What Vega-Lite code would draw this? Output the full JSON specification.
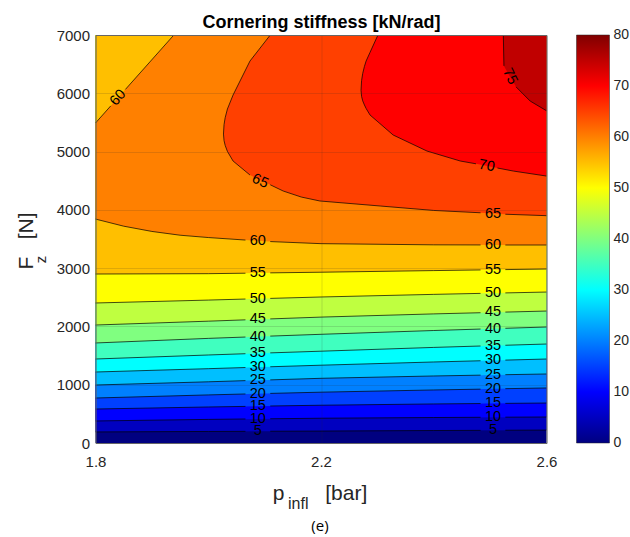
{
  "$schema": "https://vega.github.io/schema/vega-lite/v6.json",
  "width": 451,
  "height": 408,
  "autosize": {"type": "none"},
  "padding": {"left": 95.5, "top": 35, "right": 83.5, "bottom": 94},
  "background": "white",
  "datasets": {
    "bands": [
      {"level": 0, "p": 1.8, "lo": 0, "hi": 7000}, {"level": 0, "p": 2.6, "lo": 0, "hi": 7000},
      {"level": 5, "p": 1.8, "lo": 190, "hi": 7000}, {"level": 5, "p": 2.0, "lo": 198, "hi": 7000}, {"level": 5, "p": 2.2, "lo": 205, "hi": 7000}, {"level": 5, "p": 2.4, "lo": 214, "hi": 7000}, {"level": 5, "p": 2.6, "lo": 222, "hi": 7000},
      {"level": 10, "p": 1.8, "lo": 378, "hi": 7000}, {"level": 10, "p": 2.0, "lo": 405, "hi": 7000}, {"level": 10, "p": 2.2, "lo": 425, "hi": 7000}, {"level": 10, "p": 2.4, "lo": 437, "hi": 7000}, {"level": 10, "p": 2.6, "lo": 446, "hi": 7000},
      {"level": 15, "p": 1.8, "lo": 583, "hi": 7000}, {"level": 15, "p": 2.0, "lo": 618, "hi": 7000}, {"level": 15, "p": 2.2, "lo": 648, "hi": 7000}, {"level": 15, "p": 2.4, "lo": 670, "hi": 7000}, {"level": 15, "p": 2.6, "lo": 686, "hi": 7000},
      {"level": 20, "p": 1.8, "lo": 772, "hi": 7000}, {"level": 20, "p": 2.0, "lo": 825, "hi": 7000}, {"level": 20, "p": 2.2, "lo": 872, "hi": 7000}, {"level": 20, "p": 2.4, "lo": 910, "hi": 7000}, {"level": 20, "p": 2.6, "lo": 944, "hi": 7000},
      {"level": 25, "p": 1.8, "lo": 995, "hi": 7000}, {"level": 25, "p": 2.0, "lo": 1050, "hi": 7000}, {"level": 25, "p": 2.2, "lo": 1110, "hi": 7000}, {"level": 25, "p": 2.4, "lo": 1150, "hi": 7000}, {"level": 25, "p": 2.6, "lo": 1184, "hi": 7000},
      {"level": 30, "p": 1.8, "lo": 1218, "hi": 7000}, {"level": 30, "p": 2.0, "lo": 1275, "hi": 7000}, {"level": 30, "p": 2.2, "lo": 1335, "hi": 7000}, {"level": 30, "p": 2.4, "lo": 1390, "hi": 7000}, {"level": 30, "p": 2.6, "lo": 1441, "hi": 7000},
      {"level": 35, "p": 1.8, "lo": 1441, "hi": 7000}, {"level": 35, "p": 2.0, "lo": 1510, "hi": 7000}, {"level": 35, "p": 2.2, "lo": 1575, "hi": 7000}, {"level": 35, "p": 2.4, "lo": 1640, "hi": 7000}, {"level": 35, "p": 2.6, "lo": 1698, "hi": 7000},
      {"level": 40, "p": 1.8, "lo": 1716, "hi": 7000}, {"level": 40, "p": 2.0, "lo": 1795, "hi": 7000}, {"level": 40, "p": 2.2, "lo": 1865, "hi": 7000}, {"level": 40, "p": 2.4, "lo": 1930, "hi": 7000}, {"level": 40, "p": 2.6, "lo": 1990, "hi": 7000},
      {"level": 45, "p": 1.8, "lo": 2024, "hi": 7000}, {"level": 45, "p": 2.0, "lo": 2090, "hi": 7000}, {"level": 45, "p": 2.2, "lo": 2160, "hi": 7000}, {"level": 45, "p": 2.4, "lo": 2215, "hi": 7000}, {"level": 45, "p": 2.6, "lo": 2264, "hi": 7000},
      {"level": 50, "p": 1.8, "lo": 2402, "hi": 7000}, {"level": 50, "p": 2.0, "lo": 2452, "hi": 7000}, {"level": 50, "p": 2.2, "lo": 2505, "hi": 7000}, {"level": 50, "p": 2.4, "lo": 2550, "hi": 7000}, {"level": 50, "p": 2.6, "lo": 2590, "hi": 7000},
      {"level": 55, "p": 1.8, "lo": 2899, "hi": 7000}, {"level": 55, "p": 2.0, "lo": 2905, "hi": 7000}, {"level": 55, "p": 2.2, "lo": 2930, "hi": 7000}, {"level": 55, "p": 2.4, "lo": 2958, "hi": 7000}, {"level": 55, "p": 2.6, "lo": 2985, "hi": 7000},
      {"level": 60, "p": 1.8, "lo": 3842, "hi": 5490}, {"level": 60, "p": 1.85, "lo": 3720, "hi": 6033}, {"level": 60, "p": 1.9, "lo": 3630, "hi": 6576}, {"level": 60, "p": 1.939, "lo": 3579, "hi": 7000}, {"level": 60, "p": 2.0, "lo": 3525, "hi": 7000}, {"level": 60, "p": 2.1, "lo": 3460, "hi": 7000}, {"level": 60, "p": 2.2, "lo": 3420, "hi": 7000}, {"level": 60, "p": 2.4, "lo": 3400, "hi": 7000}, {"level": 60, "p": 2.6, "lo": 3397, "hi": 7000},
      {"level": 65, "p": 2.027, "lo": 5300, "hi": 5300}, {"level": 65, "p": 2.028, "lo": 5188, "hi": 5462}, {"level": 65, "p": 2.03, "lo": 5106, "hi": 5581}, {"level": 65, "p": 2.034, "lo": 5003, "hi": 5730}, {"level": 65, "p": 2.044, "lo": 4838, "hi": 5970}, {"level": 65, "p": 2.074, "lo": 4598, "hi": 6553}, {"level": 65, "p": 2.11, "lo": 4430, "hi": 7000}, {"level": 65, "p": 2.133, "lo": 4323, "hi": 7000}, {"level": 65, "p": 2.165, "lo": 4220, "hi": 7000}, {"level": 65, "p": 2.198, "lo": 4152, "hi": 7000}, {"level": 65, "p": 2.305, "lo": 4066, "hi": 7000}, {"level": 65, "p": 2.4, "lo": 3990, "hi": 7000}, {"level": 65, "p": 2.483, "lo": 3950, "hi": 7000}, {"level": 65, "p": 2.527, "lo": 3925, "hi": 7000}, {"level": 65, "p": 2.6, "lo": 3900, "hi": 7000},
      {"level": 70, "p": 2.271, "lo": 6050, "hi": 6050}, {"level": 70, "p": 2.272, "lo": 5946, "hi": 6218}, {"level": 70, "p": 2.274, "lo": 5870, "hi": 6340}, {"level": 70, "p": 2.277, "lo": 5800, "hi": 6460}, {"level": 70, "p": 2.28, "lo": 5740, "hi": 6553}, {"level": 70, "p": 2.287, "lo": 5627, "hi": 6702}, {"level": 70, "p": 2.301, "lo": 5510, "hi": 7000}, {"level": 70, "p": 2.328, "lo": 5284, "hi": 7000}, {"level": 70, "p": 2.388, "lo": 5009, "hi": 7000}, {"level": 70, "p": 2.447, "lo": 4838, "hi": 7000}, {"level": 70, "p": 2.475, "lo": 4790, "hi": 7000}, {"level": 70, "p": 2.513, "lo": 4718, "hi": 7000}, {"level": 70, "p": 2.541, "lo": 4666, "hi": 7000}, {"level": 70, "p": 2.6, "lo": 4580, "hi": 7000},
      {"level": 75, "p": 2.5234, "lo": 7000, "hi": 7000}, {"level": 75, "p": 2.5245, "lo": 6470, "hi": 7000}, {"level": 75, "p": 2.535, "lo": 6290, "hi": 7000}, {"level": 75, "p": 2.546, "lo": 6110, "hi": 7000}, {"level": 75, "p": 2.571, "lo": 5867, "hi": 7000}, {"level": 75, "p": 2.6, "lo": 5700, "hi": 7000}
    ],
    "lines": [
      {"seg": "5a", "o": 1, "p": 1.8, "fz": 190}, {"seg": "5a", "o": 2, "p": 2.0, "fz": 198}, {"seg": "5a", "o": 3, "p": 2.066, "fz": 200}, {"seg": "5b", "o": 1, "p": 2.11, "fz": 202}, {"seg": "5b", "o": 2, "p": 2.2, "fz": 205}, {"seg": "5b", "o": 3, "p": 2.4, "fz": 214}, {"seg": "5b", "o": 4, "p": 2.483, "fz": 217}, {"seg": "5c", "o": 1, "p": 2.527, "fz": 219}, {"seg": "5c", "o": 2, "p": 2.6, "fz": 222},
      {"seg": "10a", "o": 1, "p": 1.8, "fz": 378}, {"seg": "10a", "o": 2, "p": 2.0, "fz": 405}, {"seg": "10a", "o": 3, "p": 2.066, "fz": 412}, {"seg": "10b", "o": 1, "p": 2.11, "fz": 416}, {"seg": "10b", "o": 2, "p": 2.2, "fz": 425}, {"seg": "10b", "o": 3, "p": 2.4, "fz": 437}, {"seg": "10b", "o": 4, "p": 2.483, "fz": 441}, {"seg": "10c", "o": 1, "p": 2.527, "fz": 443}, {"seg": "10c", "o": 2, "p": 2.6, "fz": 446},
      {"seg": "15a", "o": 1, "p": 1.8, "fz": 583}, {"seg": "15a", "o": 2, "p": 2.0, "fz": 618}, {"seg": "15a", "o": 3, "p": 2.066, "fz": 628}, {"seg": "15b", "o": 1, "p": 2.11, "fz": 635}, {"seg": "15b", "o": 2, "p": 2.2, "fz": 648}, {"seg": "15b", "o": 3, "p": 2.4, "fz": 670}, {"seg": "15b", "o": 4, "p": 2.483, "fz": 677}, {"seg": "15c", "o": 1, "p": 2.527, "fz": 680}, {"seg": "15c", "o": 2, "p": 2.6, "fz": 686},
      {"seg": "20a", "o": 1, "p": 1.8, "fz": 772}, {"seg": "20a", "o": 2, "p": 2.0, "fz": 825}, {"seg": "20a", "o": 3, "p": 2.066, "fz": 841}, {"seg": "20b", "o": 1, "p": 2.11, "fz": 851}, {"seg": "20b", "o": 2, "p": 2.2, "fz": 872}, {"seg": "20b", "o": 3, "p": 2.4, "fz": 910}, {"seg": "20b", "o": 4, "p": 2.483, "fz": 924}, {"seg": "20c", "o": 1, "p": 2.527, "fz": 932}, {"seg": "20c", "o": 2, "p": 2.6, "fz": 944},
      {"seg": "25a", "o": 1, "p": 1.8, "fz": 995}, {"seg": "25a", "o": 2, "p": 2.0, "fz": 1050}, {"seg": "25a", "o": 3, "p": 2.066, "fz": 1070}, {"seg": "25b", "o": 1, "p": 2.11, "fz": 1083}, {"seg": "25b", "o": 2, "p": 2.2, "fz": 1110}, {"seg": "25b", "o": 3, "p": 2.4, "fz": 1150}, {"seg": "25b", "o": 4, "p": 2.483, "fz": 1164}, {"seg": "25c", "o": 1, "p": 2.527, "fz": 1172}, {"seg": "25c", "o": 2, "p": 2.6, "fz": 1184},
      {"seg": "30a", "o": 1, "p": 1.8, "fz": 1218}, {"seg": "30a", "o": 2, "p": 2.0, "fz": 1275}, {"seg": "30a", "o": 3, "p": 2.066, "fz": 1295}, {"seg": "30b", "o": 1, "p": 2.11, "fz": 1308}, {"seg": "30b", "o": 2, "p": 2.2, "fz": 1335}, {"seg": "30b", "o": 3, "p": 2.4, "fz": 1390}, {"seg": "30b", "o": 4, "p": 2.483, "fz": 1411}, {"seg": "30c", "o": 1, "p": 2.527, "fz": 1422}, {"seg": "30c", "o": 2, "p": 2.6, "fz": 1441},
      {"seg": "35a", "o": 1, "p": 1.8, "fz": 1441}, {"seg": "35a", "o": 2, "p": 2.0, "fz": 1510}, {"seg": "35a", "o": 3, "p": 2.066, "fz": 1532}, {"seg": "35b", "o": 1, "p": 2.11, "fz": 1546}, {"seg": "35b", "o": 2, "p": 2.2, "fz": 1575}, {"seg": "35b", "o": 3, "p": 2.4, "fz": 1640}, {"seg": "35b", "o": 4, "p": 2.483, "fz": 1664}, {"seg": "35c", "o": 1, "p": 2.527, "fz": 1677}, {"seg": "35c", "o": 2, "p": 2.6, "fz": 1698},
      {"seg": "40a", "o": 1, "p": 1.8, "fz": 1716}, {"seg": "40a", "o": 2, "p": 2.0, "fz": 1795}, {"seg": "40a", "o": 3, "p": 2.066, "fz": 1818}, {"seg": "40b", "o": 1, "p": 2.11, "fz": 1834}, {"seg": "40b", "o": 2, "p": 2.2, "fz": 1865}, {"seg": "40b", "o": 3, "p": 2.4, "fz": 1930}, {"seg": "40b", "o": 4, "p": 2.483, "fz": 1955}, {"seg": "40c", "o": 1, "p": 2.527, "fz": 1968}, {"seg": "40c", "o": 2, "p": 2.6, "fz": 1990},
      {"seg": "45a", "o": 1, "p": 1.8, "fz": 2024}, {"seg": "45a", "o": 2, "p": 2.0, "fz": 2090}, {"seg": "45a", "o": 3, "p": 2.066, "fz": 2113}, {"seg": "45b", "o": 1, "p": 2.11, "fz": 2129}, {"seg": "45b", "o": 2, "p": 2.2, "fz": 2160}, {"seg": "45b", "o": 3, "p": 2.4, "fz": 2215}, {"seg": "45b", "o": 4, "p": 2.483, "fz": 2235}, {"seg": "45c", "o": 1, "p": 2.527, "fz": 2246}, {"seg": "45c", "o": 2, "p": 2.6, "fz": 2264},
      {"seg": "50a", "o": 1, "p": 1.8, "fz": 2402}, {"seg": "50a", "o": 2, "p": 2.0, "fz": 2452}, {"seg": "50a", "o": 3, "p": 2.066, "fz": 2470}, {"seg": "50b", "o": 1, "p": 2.11, "fz": 2481}, {"seg": "50b", "o": 2, "p": 2.2, "fz": 2505}, {"seg": "50b", "o": 3, "p": 2.4, "fz": 2550}, {"seg": "50b", "o": 4, "p": 2.483, "fz": 2567}, {"seg": "50c", "o": 1, "p": 2.527, "fz": 2575}, {"seg": "50c", "o": 2, "p": 2.6, "fz": 2590},
      {"seg": "55a", "o": 1, "p": 1.8, "fz": 2899}, {"seg": "55a", "o": 2, "p": 2.0, "fz": 2905}, {"seg": "55a", "o": 3, "p": 2.066, "fz": 2913}, {"seg": "55b", "o": 1, "p": 2.11, "fz": 2919}, {"seg": "55b", "o": 2, "p": 2.2, "fz": 2930}, {"seg": "55b", "o": 3, "p": 2.4, "fz": 2958}, {"seg": "55b", "o": 4, "p": 2.483, "fz": 2969}, {"seg": "55c", "o": 1, "p": 2.527, "fz": 2975}, {"seg": "55c", "o": 2, "p": 2.6, "fz": 2985},
      {"seg": "60a", "o": 1, "p": 1.8, "fz": 3842}, {"seg": "60a", "o": 2, "p": 1.85, "fz": 3720}, {"seg": "60a", "o": 3, "p": 1.9, "fz": 3630}, {"seg": "60a", "o": 4, "p": 1.95, "fz": 3565}, {"seg": "60a", "o": 5, "p": 2.0, "fz": 3525}, {"seg": "60a", "o": 6, "p": 2.066, "fz": 3482}, {"seg": "60b", "o": 1, "p": 2.11, "fz": 3456}, {"seg": "60b", "o": 2, "p": 2.2, "fz": 3420}, {"seg": "60b", "o": 3, "p": 2.4, "fz": 3400}, {"seg": "60b", "o": 4, "p": 2.483, "fz": 3398}, {"seg": "60c", "o": 1, "p": 2.527, "fz": 3397}, {"seg": "60c", "o": 2, "p": 2.6, "fz": 3397},
      {"seg": "60u1", "o": 1, "p": 1.8, "fz": 5490}, {"seg": "60u1", "o": 2, "p": 1.827, "fz": 5783}, {"seg": "60u2", "o": 1, "p": 1.853, "fz": 6066}, {"seg": "60u2", "o": 2, "p": 1.939, "fz": 7000},
      {"seg": "65a", "o": 1, "p": 2.11, "fz": 7000}, {"seg": "65a", "o": 2, "p": 2.074, "fz": 6553}, {"seg": "65a", "o": 3, "p": 2.044, "fz": 5970}, {"seg": "65a", "o": 4, "p": 2.034, "fz": 5730}, {"seg": "65a", "o": 5, "p": 2.03, "fz": 5581}, {"seg": "65a", "o": 6, "p": 2.028, "fz": 5462}, {"seg": "65a", "o": 7, "p": 2.027, "fz": 5300}, {"seg": "65a", "o": 8, "p": 2.028, "fz": 5188}, {"seg": "65a", "o": 9, "p": 2.03, "fz": 5106}, {"seg": "65a", "o": 10, "p": 2.034, "fz": 5003}, {"seg": "65a", "o": 11, "p": 2.044, "fz": 4838}, {"seg": "65a", "o": 12, "p": 2.074, "fz": 4598},
      {"seg": "65b", "o": 1, "p": 2.11, "fz": 4430}, {"seg": "65b", "o": 2, "p": 2.133, "fz": 4323}, {"seg": "65b", "o": 3, "p": 2.165, "fz": 4220}, {"seg": "65b", "o": 4, "p": 2.198, "fz": 4152}, {"seg": "65b", "o": 5, "p": 2.305, "fz": 4066}, {"seg": "65b", "o": 6, "p": 2.4, "fz": 3990}, {"seg": "65b", "o": 7, "p": 2.483, "fz": 3950}, {"seg": "65c", "o": 1, "p": 2.527, "fz": 3925}, {"seg": "65c", "o": 2, "p": 2.6, "fz": 3900},
      {"seg": "70a", "o": 1, "p": 2.301, "fz": 7000}, {"seg": "70a", "o": 2, "p": 2.287, "fz": 6702}, {"seg": "70a", "o": 3, "p": 2.28, "fz": 6553}, {"seg": "70a", "o": 4, "p": 2.277, "fz": 6460}, {"seg": "70a", "o": 5, "p": 2.274, "fz": 6340}, {"seg": "70a", "o": 6, "p": 2.272, "fz": 6218}, {"seg": "70a", "o": 7, "p": 2.271, "fz": 6050}, {"seg": "70a", "o": 8, "p": 2.272, "fz": 5946}, {"seg": "70a", "o": 9, "p": 2.274, "fz": 5870}, {"seg": "70a", "o": 10, "p": 2.277, "fz": 5800}, {"seg": "70a", "o": 11, "p": 2.28, "fz": 5740}, {"seg": "70a", "o": 12, "p": 2.287, "fz": 5627}, {"seg": "70a", "o": 13, "p": 2.301, "fz": 5510}, {"seg": "70a", "o": 14, "p": 2.328, "fz": 5284}, {"seg": "70a", "o": 15, "p": 2.388, "fz": 5009}, {"seg": "70a", "o": 16, "p": 2.447, "fz": 4838}, {"seg": "70a", "o": 17, "p": 2.475, "fz": 4790},
      {"seg": "70b", "o": 1, "p": 2.513, "fz": 4718}, {"seg": "70b", "o": 2, "p": 2.541, "fz": 4666}, {"seg": "70b", "o": 3, "p": 2.6, "fz": 4580},
      {"seg": "75a", "o": 1, "p": 2.5234, "fz": 7000}, {"seg": "75a", "o": 2, "p": 2.5245, "fz": 6470}, {"seg": "75b", "o": 1, "p": 2.546, "fz": 6110}, {"seg": "75b", "o": 2, "p": 2.571, "fz": 5867}, {"seg": "75b", "o": 3, "p": 2.6, "fz": 5700}
    ],
    "labels": [
      {"grp": "flat", "t": "5", "p": 2.088, "fz": 201}, {"grp": "flat", "t": "10", "p": 2.088, "fz": 414}, {"grp": "flat", "t": "15", "p": 2.088, "fz": 631}, {"grp": "flat", "t": "20", "p": 2.088, "fz": 846}, {"grp": "flat", "t": "25", "p": 2.088, "fz": 1076}, {"grp": "flat", "t": "30", "p": 2.088, "fz": 1301}, {"grp": "flat", "t": "35", "p": 2.088, "fz": 1539}, {"grp": "flat", "t": "40", "p": 2.088, "fz": 1826}, {"grp": "flat", "t": "45", "p": 2.088, "fz": 2121}, {"grp": "flat", "t": "50", "p": 2.088, "fz": 2475}, {"grp": "flat", "t": "55", "p": 2.088, "fz": 2916}, {"grp": "flat", "t": "60", "p": 2.088, "fz": 3468},
      {"grp": "flat", "t": "5", "p": 2.505, "fz": 218}, {"grp": "flat", "t": "10", "p": 2.505, "fz": 442}, {"grp": "flat", "t": "15", "p": 2.505, "fz": 678}, {"grp": "flat", "t": "20", "p": 2.505, "fz": 928}, {"grp": "flat", "t": "25", "p": 2.505, "fz": 1168}, {"grp": "flat", "t": "30", "p": 2.505, "fz": 1417}, {"grp": "flat", "t": "35", "p": 2.505, "fz": 1670}, {"grp": "flat", "t": "40", "p": 2.505, "fz": 1962}, {"grp": "flat", "t": "45", "p": 2.505, "fz": 2241}, {"grp": "flat", "t": "50", "p": 2.505, "fz": 2571}, {"grp": "flat", "t": "55", "p": 2.505, "fz": 2972}, {"grp": "flat", "t": "60", "p": 2.505, "fz": 3398}, {"grp": "flat", "t": "65", "p": 2.505, "fz": 3937},
      {"grp": "r60", "t": "60", "p": 1.84, "fz": 5924},
      {"grp": "r65", "t": "65", "p": 2.092, "fz": 4490},
      {"grp": "r70", "t": "70", "p": 2.494, "fz": 4752},
      {"grp": "r75", "t": "75", "p": 2.535, "fz": 6290}
    ]
  },
  "layer": [
    {
      "layer": [
        {
          "data": {"name": "bands"},
          "mark": {"type": "area", "opacity": 1, "interpolate": "linear"},
          "encoding": {
            "x": {"field": "p", "type": "quantitative", "scale": {"domain": [1.8, 2.6], "nice": false, "zero": false},
              "axis": {"values": [1.8, 2.2, 2.6], "format": ".1f", "labelFlush": false, "ticks": false, "labelPadding": 11, "labelFontSize": 15, "labelColor": "#262626", "grid": true, "gridColor": "#262626", "gridOpacity": 0.15, "domain": true, "domainColor": "#666666", "zindex": 1,
                "title": "p\u00a0\u00a0\u00a0\u00a0\u00a0\u00a0\u00a0[bar]", "titleFontSize": 21, "titleFontWeight": "normal", "titleColor": "#262626", "titleX": 224, "titleY": 56, "titleAlign": "center", "titleBaseline": "alphabetic"}},
            "y": {"field": "lo", "type": "quantitative", "stack": null, "scale": {"domain": [0, 7000], "nice": false, "zero": false},
              "axis": {"values": [0, 1000, 2000, 3000, 4000, 5000, 6000, 7000], "format": "d", "labelFlush": false, "ticks": false, "labelPadding": 6, "labelFontSize": 15, "labelColor": "#262626", "grid": true, "gridColor": "#262626", "gridOpacity": 0.15, "domain": true, "domainColor": "#666666", "zindex": 1,
                "title": "F\u00a0\u00a0\u00a0[N]", "titleFontSize": 21, "titleFontWeight": "normal", "titleColor": "#262626", "titleAngle": 270, "titleX": -63.5, "titleY": 205.5, "titleAlign": "center", "titleBaseline": "alphabetic"}},
            "y2": {"field": "hi"},
            "detail": {"field": "level"},
            "color": {"field": "level", "type": "quantitative",
              "scale": {"domain": [0, 10, 30, 50, 70, 80], "range": ["#000080", "#0000ff", "#00ffff", "#ffff00", "#ff0000", "#800000"], "interpolate": "rgb"},
              "legend": {"title": null, "orient": "right", "offset": 27.5, "padding": 0, "direction": "vertical", "gradientLength": 408, "gradientThickness": 33, "values": [0.001, 10, 20, 30, 40, 50, 60, 70, 79.999], "format": "d", "labelFontSize": 14, "labelColor": "#262626", "labelOffset": 4, "labelOverlap": false, "gradientStrokeColor": "#262626", "gradientStrokeWidth": 0.5}}
          }
        },
        {
          "data": {"name": "lines"},
          "mark": {"type": "line", "color": "#000000", "strokeWidth": 0.7, "interpolate": "linear"},
          "encoding": {
            "x": {"field": "p", "type": "quantitative"},
            "y": {"field": "fz", "type": "quantitative"},
            "detail": {"field": "seg"},
            "order": {"field": "o", "type": "quantitative"}
          }
        },
        {
          "data": {"name": "labels"},
          "transform": [{"filter": "datum.grp === 'flat'"}],
          "mark": {"type": "text", "fontSize": 14.5, "font": "Liberation Sans", "color": "#000000", "align": "center", "baseline": "middle"},
          "encoding": {"x": {"field": "p", "type": "quantitative"}, "y": {"field": "fz", "type": "quantitative"}, "text": {"field": "t"}}
        },
        {
          "data": {"name": "labels"},
          "transform": [{"filter": "datum.grp === 'r60'"}],
          "mark": {"type": "text", "fontSize": 14.5, "font": "Liberation Sans", "color": "#000000", "align": "center", "baseline": "middle", "angle": 312},
          "encoding": {"x": {"field": "p", "type": "quantitative"}, "y": {"field": "fz", "type": "quantitative"}, "text": {"field": "t"}}
        },
        {
          "data": {"name": "labels"},
          "transform": [{"filter": "datum.grp === 'r65'"}],
          "mark": {"type": "text", "fontSize": 14.5, "font": "Liberation Sans", "color": "#000000", "align": "center", "baseline": "middle", "angle": 25},
          "encoding": {"x": {"field": "p", "type": "quantitative"}, "y": {"field": "fz", "type": "quantitative"}, "text": {"field": "t"}}
        },
        {
          "data": {"name": "labels"},
          "transform": [{"filter": "datum.grp === 'r70'"}],
          "mark": {"type": "text", "fontSize": 14.5, "font": "Liberation Sans", "color": "#000000", "align": "center", "baseline": "middle", "angle": 10},
          "encoding": {"x": {"field": "p", "type": "quantitative"}, "y": {"field": "fz", "type": "quantitative"}, "text": {"field": "t"}}
        },
        {
          "data": {"name": "labels"},
          "transform": [{"filter": "datum.grp === 'r75'"}],
          "mark": {"type": "text", "fontSize": 14.5, "font": "Liberation Sans", "color": "#000000", "align": "center", "baseline": "middle", "angle": 64},
          "encoding": {"x": {"field": "p", "type": "quantitative"}, "y": {"field": "fz", "type": "quantitative"}, "text": {"field": "t"}}
        }
      ]
    },
    {
      "data": {"name": "labels"},
      "mark": {"type": "point", "opacity": 0},
      "encoding": {
        "x": {"field": "p", "type": "quantitative", "scale": {"domain": [1.8, 2.6], "nice": false, "zero": false},
          "axis": {"orient": "bottom", "labels": false, "ticks": false, "domain": false, "grid": false, "title": "infl", "titleFontSize": 16, "titleFontWeight": "normal", "titleColor": "#262626", "titleX": 192, "titleY": 65, "titleAlign": "left", "titleBaseline": "alphabetic", "titleAngle": 0}},
        "y": {"field": "fz", "type": "quantitative", "scale": {"domain": [0, 7000], "nice": false, "zero": false},
          "axis": {"orient": "left", "labels": false, "ticks": false, "domain": false, "grid": false, "title": "z", "titleFontSize": 15, "titleFontWeight": "normal", "titleColor": "#262626", "titleX": -50.5, "titleY": 224, "titleAlign": "center", "titleBaseline": "alphabetic", "titleAngle": 270}}
      }
    },
    {
      "data": {"name": "labels"},
      "mark": {"type": "point", "opacity": 0},
      "encoding": {
        "x": {"field": "p", "type": "quantitative", "scale": {"domain": [1.8, 2.6], "nice": false, "zero": false},
          "axis": {"orient": "top", "labels": false, "ticks": false, "domain": true, "domainColor": "#666666", "grid": false, "zindex": 1, "title": "Cornering stiffness [kN/rad]", "titleFontSize": 18, "titleFontWeight": "bold", "titleColor": "#000000", "titleX": 225.5, "titleY": -8, "titleAlign": "center", "titleBaseline": "alphabetic", "titleAngle": 0}},
        "y": {"field": "fz", "type": "quantitative", "scale": {"domain": [0, 7000], "nice": false, "zero": false},
          "axis": {"orient": "right", "labels": false, "ticks": false, "domain": true, "domainColor": "#666666", "grid": false, "zindex": 1, "title": "(e)", "titleFont": "Open Sans", "titleFontSize": 15, "titleFontWeight": "normal", "titleColor": "#000000", "titleX": -227, "titleY": 495, "titleAlign": "center", "titleBaseline": "alphabetic", "titleAngle": 0}}
      }
    }
  ],
  "resolve": {"scale": {"x": "independent", "y": "independent"}},
  "config": {
    "view": {"stroke": null},
    "font": "Liberation Sans",
    "axis": {"labelFont": "Liberation Sans", "titleFont": "Liberation Sans"},
    "legend": {"labelFont": "Liberation Sans"}
  }
}
